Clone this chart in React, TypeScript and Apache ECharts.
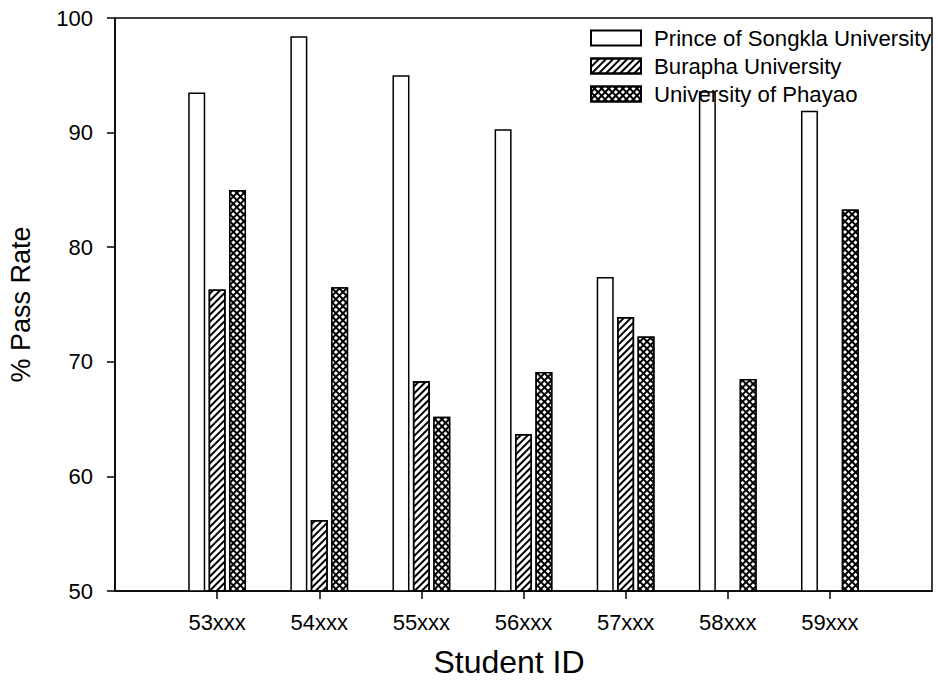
import React, { useEffect, useRef } from "react";
import * as echarts from "echarts";

const categories = ["53xxx", "54xxx", "55xxx", "56xxx", "57xxx", "58xxx", "59xxx"];
const psu = [93.5, 98.4, 95.0, 90.3, 77.4, 93.6, 91.9];
const burapha = [76.3, 56.2, 68.3, 63.7, 73.9, null, null];
const phayao = [85.0, 76.5, 65.2, 69.1, 72.2, 68.5, 83.3];
const seriesNames = ["Prince of Songkla University", "Burapha University", "University of Phayao"];
const yTicks = [50, 60, 70, 80, 90, 100];

const FONT = "'Liberation Sans', Arial, sans-serif";

export default function App() {
  const ref = useRef<HTMLDivElement>(null);
  useEffect(() => {
    if (!ref.current) return;
    const chart = echarts.init(ref.current, null, { renderer: "svg" });
    const xData = ["", ...categories, " "];
    const pad = (arr: (number | null)[]) => [null, ...arr, null];
    const last = xData.length - 1;
    const showIdx = (i: number) => i > 0 && i < last;
    const barBase = { type: "bar", barWidth: 17, barGap: "20%" };
    const border = { borderColor: "#000", borderWidth: 1.5 };
    chart.setOption({
      animation: false,
      backgroundColor: "#fff",
      textStyle: { fontFamily: FONT, color: "#000" },
      grid: {
        left: 115,
        top: 18,
        right: 6,
        bottom: 95,
        outerBoundsMode: "none",
        containLabel: false,
        show: true,
        borderColor: "#000",
        borderWidth: 1.5,
        backgroundColor: "transparent",
      },
      legend: {
        orient: "vertical",
        left: 590,
        top: 27,
        padding: 0,
        itemWidth: 50,
        itemHeight: 15,
        itemGap: 6,
        icon: "rect",
        selectedMode: false,
        data: seriesNames,
        textStyle: { fontSize: 22.2, fontFamily: FONT, color: "#000", padding: [0, 0, 0, 8] },
      },
      xAxis: {
        type: "category",
        data: xData,
        boundaryGap: false,
        name: "Student ID",
        nameLocation: "middle",
        nameGap: 55,
        nameTextStyle: { fontSize: 32, fontFamily: FONT, color: "#000", padding: [0, 29, 0, 0] },
        axisLine: { lineStyle: { color: "#000", width: 1.5 } },
        axisTick: { inside: false, length: 8, interval: (i: number) => showIdx(i), lineStyle: { color: "#000", width: 1.5 } },
        axisLabel: { fontSize: 22, fontFamily: FONT, color: "#000", margin: 20, interval: (i: number) => showIdx(i) },
        splitLine: { show: false },
      },
      yAxis: {
        type: "value",
        min: yTicks[0],
        max: yTicks[yTicks.length - 1],
        interval: 10,
        name: "% Pass Rate",
        nameLocation: "middle",
        nameGap: 81,
        nameTextStyle: { fontSize: 27, fontFamily: FONT, color: "#000" },
        axisLine: { show: true, lineStyle: { color: "#000", width: 1.5 } },
        axisTick: { show: true, inside: false, length: 8, lineStyle: { color: "#000", width: 1.5 } },
        axisLabel: { fontSize: 22, fontFamily: FONT, color: "#000", margin: 22 },
        splitLine: { show: false },
      },
      series: [
        {
          ...barBase,
          name: seriesNames[0],
          data: pad(psu),
          itemStyle: { color: "#fff", ...border },
        },
        {
          ...barBase,
          name: seriesNames[1],
          data: pad(burapha),
          itemStyle: {
            color: "#fff",
            ...border,
            decal: {
              symbol: "rect",
              color: "#000",
              backgroundColor: "#fff",
              dashArrayX: [1, 0],
              dashArrayY: [1.2, 3],
              rotation: -Math.PI / 4,
            },
          },
        },
        {
          ...barBase,
          name: seriesNames[2],
          data: pad(phayao),
          itemStyle: {
            color: "#000",
            ...border,
            decal: {
              symbol: "rect",
              color: "#fff",
              backgroundColor: "#000",
              dashArrayX: [2.4, 1.2],
              dashArrayY: [2.4, 1.2],
              rotation: Math.PI / 4,
            },
          },
        },
      ],
    });
    return () => chart.dispose();
  }, []);
  return (
    <div
      ref={ref}
      style={{ position: "fixed", left: 0, top: 0, width: 938, height: 686, background: "#fff" }}
    />
  );
}
